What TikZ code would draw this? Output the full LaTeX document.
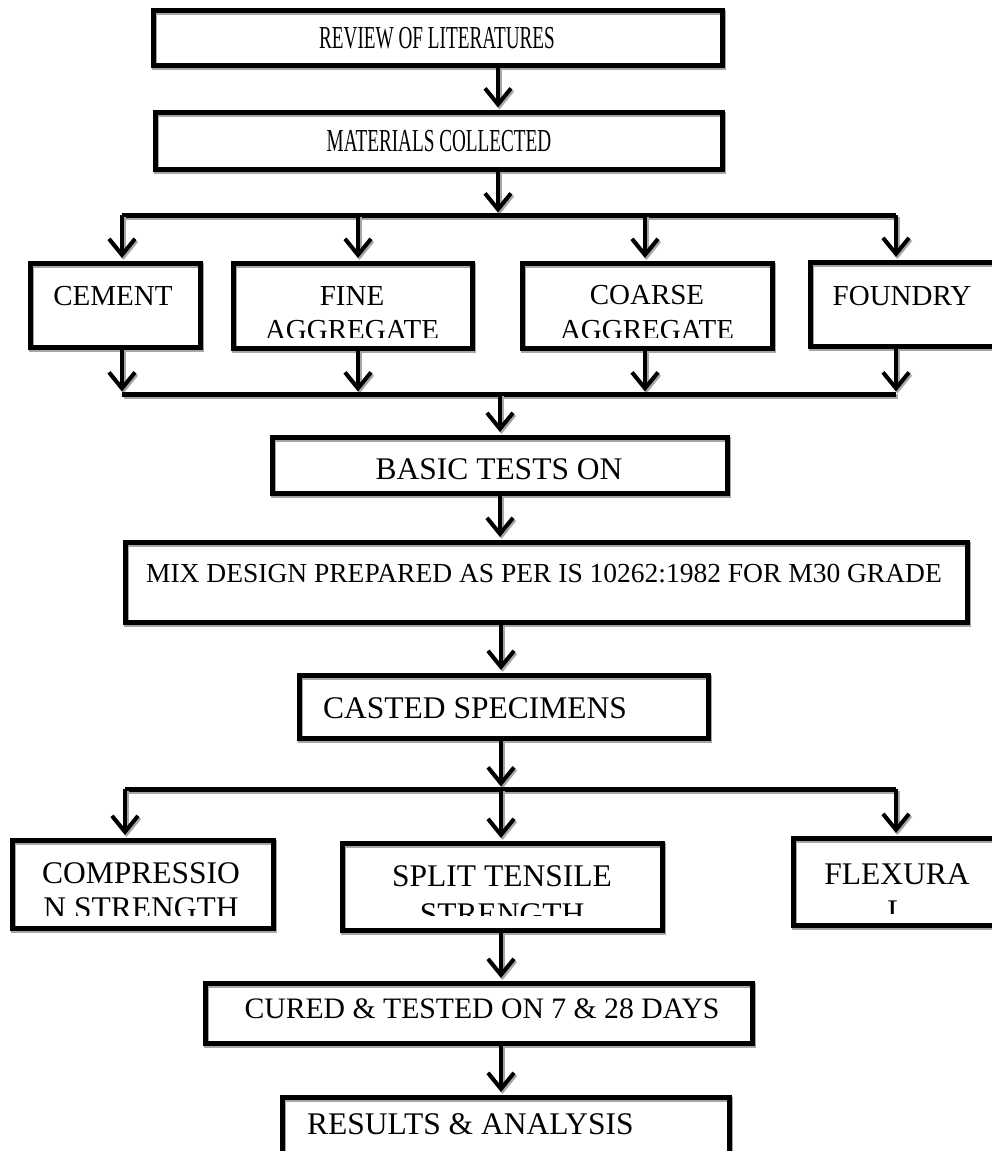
\documentclass[tikz,border=0pt]{standalone}
\usepackage{fontspec}
\setmainfont{Liberation Serif}
\usetikzlibrary{arrows.meta}
\begin{document}
\begin{tikzpicture}[x=1pt,y=-1pt,
  shbox/.style={preaction={draw=black!35, line width=5pt, transform canvas={shift={(1.5pt,-2pt)}}}},
  box/.style={shbox, draw, line width=5pt, rectangle, inner sep=0pt},
  lbl/.style={anchor=base, inner sep=0pt, font=\fontsize{29}{35}\selectfont},
  biglbl/.style={lbl, font=\fontsize{31.5}{37}\selectfont},
  toplbl/.style={anchor=base, inner sep=0pt, font=\fontsize{32}{38}\selectfont},
  arr/.style={line width=4pt, shorten >=2.5pt, -{Straight Barb[length=16pt,width=26pt]},
     preaction={draw=black!35, line width=4pt, shorten >=2.5pt, -{Straight Barb[length=16pt,width=26pt]}, transform canvas={shift={(1.5pt,-2pt)}}}},
  bar/.style={line width=5pt, preaction={draw=black!35, line width=5pt, transform canvas={shift={(1.5pt,-2.5pt)}}}}
]
\clip (0,0) rectangle (992,1151);
% boxes
\node[box, minimum width=569pt, minimum height=55pt] (rev) at (437.5,37.5) {};
\node[box, minimum width=567pt, minimum height=57pt] (mat) at (438.5,141) {};
\node[box, minimum width=170pt, minimum height=84pt] (cem) at (115,305) {};
\node[box, minimum width=239pt, minimum height=85pt] (fine) at (352.5,305.5) {};
\node[box, minimum width=250pt, minimum height=85pt] (coarse) at (647,305.5) {};
\node[box, minimum width=186pt, minimum height=84pt] (found) at (903,304) {};
\node[box, minimum width=455pt, minimum height=56pt] (basic) at (499.5,465) {};
\node[box, minimum width=842pt, minimum height=80pt] (mix) at (546,582) {};
\node[box, minimum width=409pt, minimum height=63pt] (cast) at (503.5,706.5) {};
\node[box, minimum width=261pt, minimum height=88pt] (comp) at (142.5,884) {};
\node[box, minimum width=320pt, minimum height=87pt] (split) at (502,886.5) {};
\node[box, minimum width=208pt, minimum height=87pt] (flex) at (897,881.5) {};
\node[box, minimum width=547pt, minimum height=60pt] (cured) at (478.5,1013) {};
\node[box, minimum width=447pt, minimum height=80pt] (res) at (505.5,1137) {};
% texts
\node[toplbl] (rev-t) at (437,48) {\scalebox{0.6}[1]{REVIEW OF LITERATURES}};
\node[toplbl] (mat-t) at (439,151.5) {\scalebox{0.6}[1]{MATERIALS COLLECTED}};
\node[lbl] (cem-t) at (113,305) {CEMENT};
\begin{scope}
  \clip (233,250) rectangle (472,337);
  \node[lbl] (fine-t1) at (352,305) {FINE};
  \node[lbl] (fine-t2) at (352,339) {AGGREGATE};
\end{scope}
\begin{scope}
  \clip (522,250) rectangle (772,337);
  \node[lbl] (coarse-t1) at (647,304) {COARSE};
  \node[lbl] (coarse-t2) at (647,339) {AGGREGATE};
\end{scope}
\node[lbl] (found-t) at (902,305) {FOUNDRY};
\node[biglbl] (basic-t) at (499,479) {BASIC TESTS ON};
\node[lbl, font=\fontsize{27.5}{33}\selectfont] (mix-t) at (544,582) {MIX DESIGN PREPARED AS PER IS 10262:1982 FOR M30 GRADE};
\node[biglbl, anchor=base west] (cast-t) at (323,718) {CASTED SPECIMENS};
\begin{scope}
  \clip (12,840) rectangle (273,915.5);
  \node[biglbl] (comp-t1) at (141,883) {COMPRESSIO};
  \node[biglbl] (comp-t2) at (141,918) {N STRENGTH};
\end{scope}
\begin{scope}
  \clip (342,840) rectangle (662,915);
  \node[biglbl] (split-t1) at (502,886) {SPLIT TENSILE};
  \node[biglbl] (split-t2) at (502,924) {STRENGTH};
\end{scope}
\begin{scope}
  \clip (793,835) rectangle (992,913);
  \node[biglbl] (flex-t1) at (897,884) {FLEXURA};
  \node[biglbl] (flex-t2) at (897,921) {L};
\end{scope}
\node[lbl, font=\fontsize{29.7}{35}\selectfont] (cured-t) at (482,1018) {CURED \& TESTED ON 7 \& 28 DAYS};
\node[biglbl, anchor=base west] (res-t) at (307,1134) {RESULTS \& ANALYSIS};
% connector coordinates
\coordinate (b1l) at (122,215); \coordinate (b1f) at (358,215);
\coordinate (b1c) at (498,215); \coordinate (b1k) at (645,215);
\coordinate (b1r) at (896,215);
\coordinate (b2l) at (122,394); \coordinate (b2f) at (358,394);
\coordinate (b2c) at (500,394); \coordinate (b2k) at (645,394);
\coordinate (b2r) at (896,394);
\coordinate (b3l) at (125,789); \coordinate (b3c) at (501,789);
\coordinate (b3r) at (896,789);
% connectors
\draw[arr] (rev.south -| b1c) -- (mat.north -| b1c);
\draw[arr] (mat.south -| b1c) -- (b1c);
\draw[bar] (b1l) -- (b1r);
\draw[arr] (b1l) -- (b1l |- cem.north);
\draw[arr] (b1f) -- (b1f |- fine.north);
\draw[arr] (b1k) -- (b1k |- coarse.north);
\draw[arr] (b1r) -- (b1r |- found.north);
\draw[arr] (cem.south -| b2l) -- (b2l);
\draw[arr] (fine.south -| b2f) -- (b2f);
\draw[arr] (coarse.south -| b2k) -- (b2k);
\draw[arr] (found.south -| b2r) -- (b2r);
\draw[bar] (b2l) -- (b2r);
\draw[arr] (b2c) -- (basic.north -| b2c);
\draw[arr] (basic.south -| b2c) -- (mix.north -| b2c);
\draw[arr] (mix.south -| b3c) -- (cast.north -| b3c);
\draw[arr] (cast.south -| b3c) -- (b3c);
\draw[bar] (b3l) -- (b3r);
\draw[arr] (b3l) -- (b3l |- comp.north);
\draw[arr] (b3c) -- (b3c |- split.north);
\draw[arr] (b3r) -- (b3r |- flex.north);
\draw[arr] (split.south -| b3c) -- (cured.north -| b3c);
\draw[arr] (cured.south -| b3c) -- (res.north -| b3c);
\end{tikzpicture}
\end{document}
